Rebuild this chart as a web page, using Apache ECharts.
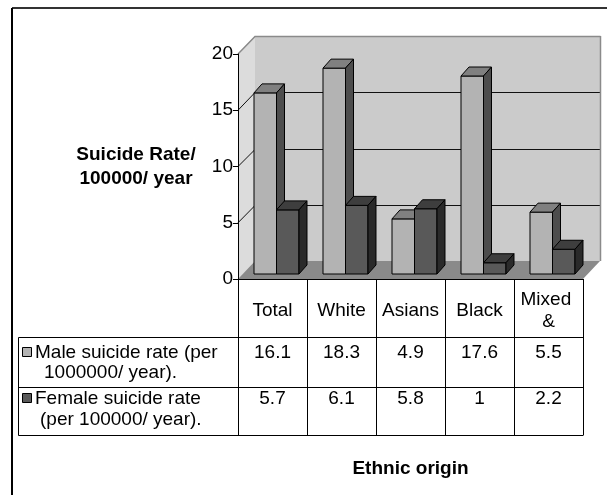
<!DOCTYPE html>
<html>
<head>
<meta charset="utf-8">
<script src="https://cdn.jsdelivr.net/npm/echarts@6/dist/echarts.min.js"></script>
<style>
  html, body { margin: 0; padding: 0; background: #fff; }
  #chart { width: 607px; height: 495px; }
</style>
</head>
<body>
<div id="chart"></div>
<script>
// Suicide rates by ethnic origin, 3-D column chart with a data table underneath
const categories = ['Total', 'White', 'Asians', 'Black', 'Mixed &'];
const maleRates = [16.1, 18.3, 4.9, 17.6, 5.5];
const femaleRates = [5.7, 6.1, 5.8, 1, 2.2];
const yTicks = [0, 5, 10, 15, 20];
const maleRowLabel = ['Male suicide rate (per', '1000000/ year).'];
const femaleRowLabel = ['Female suicide rate', '(per 100000/ year).'];
const yTitle = 'Suicide Rate/\n100000/ year';
const xTitle = 'Ethnic origin';

const FONT = '"Liberation Sans", Arial, sans-serif';
const FS = 19;

// depth of the chart box and of the columns, in pixels
const WALL = { dx: 17, dy: -18 };
const BAR = { dx: 4, dy: -5, ddx: 8, ddy: -9, widthRatio: 0.326 };

const MALE_COL = { front: '#b3b3b3', top: '#808080', side: '#4d4d4d' };
const FEMALE_COL = { front: '#595959', top: '#3e3e3e', side: '#2a2a2a' };

// table rows (y positions)
const TABLE = { left: 18.5, headerBottom: 337.5, divider: 387.5, bottom: 435.5,
  maleLines: [353, 373], femaleLines: [399, 420], maleIndent: [35, 44], femaleIndent: [35, 40] };

const chart = echarts.init(document.getElementById('chart'), null, { renderer: 'canvas' });

function crisp(v) { return Math.round(v) + 0.5; }

function renderWalls(params, api) {
  const cs = params.coordSys;
  const x0 = cs.x, x1 = cs.x + cs.width, yt = cs.y, yb = cs.y + cs.height;
  const dx = WALL.dx, dy = WALL.dy;
  const children = [];
  children.push({ type: 'polygon', shape: { points: [[x0 + dx, yt + dy], [x1 + dx, yt + dy], [x1 + dx, yb + dy], [x0 + dx, yb + dy]] },
    style: { fill: '#cbcbcb' } });
  children.push({ type: 'polygon', shape: { points: [[x0, yt], [x0 + dx, yt + dy], [x0 + dx, yb + dy], [x0, yb]] },
    style: { fill: '#dcdcdc' } });
  children.push({ type: 'polygon', shape: { points: [[x0, yb], [x0 + dx, yb + dy], [x1 + dx, yb + dy], [x1, yb]] },
    style: { fill: '#8a8a8a' } });
  const top = yTicks[yTicks.length - 1];
  yTicks.forEach(function (v) {
    if (v === yTicks[0]) return;
    const y = api.coord([0, v])[1];
    const yy = crisp(y + dy);
    children.push({ type: 'polyline', shape: { points: [[x0, y], [x0 + dx, yy], [crisp(x1 + dx), yy]] },
      style: { stroke: v === top ? '#8a8a8a' : '#111', lineWidth: v === top ? 1.5 : 1, fill: null } });
  });
  // right edge of the back wall
  children.push({ type: 'line', shape: { x1: crisp(x1 + dx), y1: yt + dy, x2: crisp(x1 + dx), y2: yb + dy },
    style: { stroke: '#8a8a8a', lineWidth: 1.5 } });
  return { type: 'group', children: children };
}

function makeBarRenderer(isLeft, col) {
  return function (params, api) {
    const idx = api.value(0), v = api.value(1);
    const base = api.coord([idx, 0]);
    const tip = api.coord([idx, v]);
    const band = api.size([1, 0])[0];
    const w = band * BAR.widthRatio;
    const l = base[0] + BAR.dx - (isLeft ? w : 0);
    const r = l + w;
    const yb = base[1] + BAR.dy, yt = tip[1] + BAR.dy;
    const ddx = BAR.ddx, ddy = BAR.ddy;
    const edge = { stroke: '#000', lineWidth: 1, lineJoin: 'miter' };
    return { type: 'group', children: [
      { type: 'polygon', shape: { points: [[l, yt], [r, yt], [r, yb], [l, yb]] }, style: Object.assign({ fill: col.front }, edge) },
      { type: 'polygon', shape: { points: [[l, yt], [l + ddx, yt + ddy], [r + ddx, yt + ddy], [r, yt]] }, style: Object.assign({ fill: col.top }, edge) },
      { type: 'polygon', shape: { points: [[r, yt], [r + ddx, yt + ddy], [r + ddx, yb + ddy], [r, yb]] }, style: Object.assign({ fill: col.side }, edge) }
    ] };
  };
}

function txt(text, x, y, align, extra) {
  return { type: 'text', style: Object.assign({ text: text, x: x, y: y, fill: '#000', fontSize: FS, fontFamily: FONT,
    align: align, verticalAlign: 'middle' }, extra || {}) };
}

// frame of the data table plus the row headers with their keys
function renderTableFrame(params, api) {
  const cs = params.coordSys;
  const right = crisp(cs.x + cs.width);
  const children = [];
  [TABLE.headerBottom, TABLE.divider, TABLE.bottom].forEach(function (y) {
    children.push({ type: 'line', shape: { x1: TABLE.left, y1: y, x2: right, y2: y }, style: { stroke: '#000', lineWidth: 1 } });
  });
  children.push({ type: 'line', shape: { x1: TABLE.left, y1: TABLE.headerBottom, x2: TABLE.left, y2: TABLE.bottom }, style: { stroke: '#000', lineWidth: 1 } });
  children.push({ type: 'rect', shape: { x: 22.5, y: TABLE.maleLines[0] - 5.5, width: 9, height: 9 }, style: { fill: MALE_COL.front, stroke: '#000', lineWidth: 1 } });
  children.push({ type: 'rect', shape: { x: 22.5, y: TABLE.femaleLines[0] - 5.5, width: 9, height: 9 }, style: { fill: FEMALE_COL.front, stroke: '#000', lineWidth: 1 } });
  children.push(txt(maleRowLabel[0], TABLE.maleIndent[0], TABLE.maleLines[0], 'left'));
  children.push(txt(maleRowLabel[1], TABLE.maleIndent[1], TABLE.maleLines[1], 'left'));
  children.push(txt(femaleRowLabel[0], TABLE.femaleIndent[0], TABLE.femaleLines[0], 'left'));
  children.push(txt(femaleRowLabel[1], TABLE.femaleIndent[1], TABLE.femaleLines[1], 'left'));
  return { type: 'group', children: children };
}

// one column of values in the data table
function renderTableValues(params, api) {
  const idx = api.value(0);
  const x = api.coord([idx, 0])[0];
  return { type: 'group', children: [
    txt(String(api.value(1)), x, TABLE.maleLines[0], 'center'),
    txt(String(api.value(2)), x, TABLE.femaleLines[0], 'center')
  ] };
}

const option = {
  animation: false,
  backgroundColor: '#fff',
  grid: { left: 238, top: 54, width: 345, height: 225, containLabel: false },
  xAxis: {
    type: 'category',
    data: categories,
    z: 10,
    axisLine: { show: true, lineStyle: { color: '#000', width: 1 } },
    axisTick: { show: true, length: 156, lineStyle: { color: '#000', width: 1 } },
    axisLabel: { interval: 0, margin: 32, verticalAlign: 'middle', fontSize: FS, fontFamily: FONT, color: '#000',
      width: 64, overflow: 'break', lineHeight: 22 },
    name: xTitle,
    nameLocation: 'middle',
    nameGap: 180,
    nameTextStyle: { fontSize: FS, fontWeight: 'bold', fontFamily: FONT, color: '#000' }
  },
  yAxis: {
    type: 'value',
    min: yTicks[0],
    max: yTicks[yTicks.length - 1],
    interval: yTicks[1] - yTicks[0],
    z: 10,
    axisLine: { show: true, lineStyle: { color: '#000', width: 1 } },
    axisTick: { show: true, length: 5, lineStyle: { color: '#000' } },
    axisLabel: { fontSize: FS, fontFamily: FONT, color: '#000', margin: 5 },
    splitLine: { show: false },
    name: yTitle,
    nameLocation: 'middle',
    nameRotate: 0,
    nameGap: 102,
    nameTextStyle: { fontSize: FS, fontWeight: 'bold', fontFamily: FONT, color: '#000',
      align: 'center', verticalAlign: 'middle', lineHeight: 24 }
  },
  graphic: [
    { type: 'line', shape: { x1: 12, y1: 8, x2: 607, y2: 8 }, style: { stroke: '#333', lineWidth: 2 }, z: 20 },
    { type: 'line', shape: { x1: 12, y1: 8, x2: 12, y2: 495 }, style: { stroke: '#000', lineWidth: 2 }, z: 20 }
  ],
  series: [
    { type: 'custom', name: 'box', coordinateSystem: 'cartesian2d', clip: false, z: 1, silent: true,
      data: [[0, 0]], renderItem: renderWalls },
    { type: 'custom', name: 'Male', coordinateSystem: 'cartesian2d', clip: false, z: 3,
      data: maleRates.map(function (v, i) { return [i, v]; }), renderItem: makeBarRenderer(true, MALE_COL) },
    { type: 'custom', name: 'Female', coordinateSystem: 'cartesian2d', clip: false, z: 3,
      data: femaleRates.map(function (v, i) { return [i, v]; }), renderItem: makeBarRenderer(false, FEMALE_COL) },
    { type: 'custom', name: 'tableFrame', coordinateSystem: 'cartesian2d', clip: false, z: 4, silent: true,
      data: [[0, 0]], renderItem: renderTableFrame },
    { type: 'custom', name: 'tableValues', coordinateSystem: 'cartesian2d', clip: false, z: 4, silent: true,
      data: categories.map(function (c, i) { return [i, maleRates[i], femaleRates[i]]; }),
      encode: { x: 0, y: 1 }, renderItem: renderTableValues }
  ]
};

chart.setOption(option);
</script>
</body>
</html>
